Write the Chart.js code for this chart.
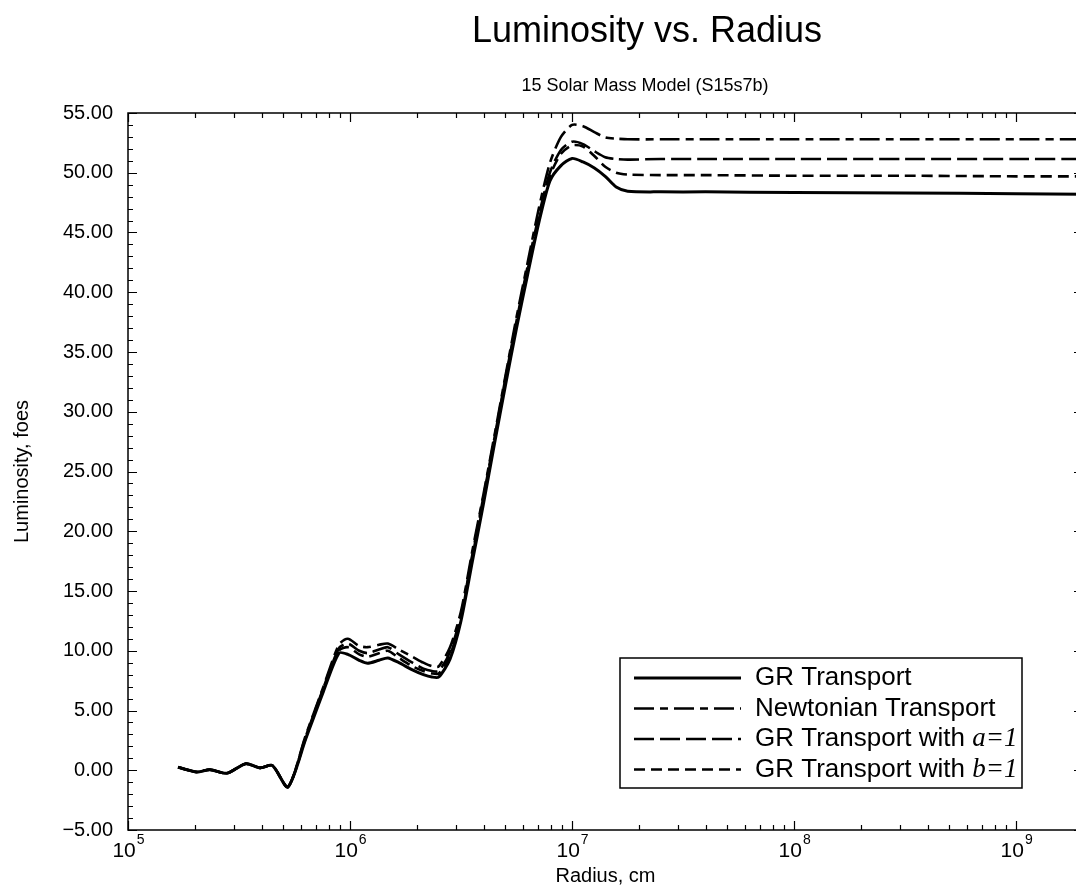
<!DOCTYPE html>
<html><head><meta charset="utf-8">
<script src="https://cdn.jsdelivr.net/npm/chart.js@4.4.1/dist/chart.umd.min.js"></script>
<style>
html,body{margin:0;padding:0;background:#fff;overflow:hidden;width:1076px;height:888px}
#wrap{position:absolute;left:0;top:0;width:1100px;height:888px}
</style>
</head><body>
<div id="wrap"><canvas id="c" width="1100" height="888"></canvas></div>
<script>
// ---- data (radius in cm, luminosity in foes) ----
const radius = [1.68e5, 2.04e5, 2.34e5, 2.79e5, 3.39e5, 3.94e5, 4.47e5, 5.25e5, 6.31e5, 7.59e5,
  8.91e5, 9.77e5, 1.10e6, 1.20e6, 1.35e6, 1.48e6, 1.66e6, 1.91e6, 2.14e6, 2.34e6,
  2.51e6, 2.82e6, 3.16e6, 3.55e6, 3.98e6, 4.47e6, 5.01e6, 5.62e6, 6.31e6, 7.08e6,
  7.94e6, 8.91e6, 1.00e7, 1.12e7, 1.26e7, 1.41e7, 1.58e7, 1.78e7, 2.51e7, 3.98e7,
  1.0e8, 3.16e8, 1.0e9, 2.0e9];
const grTransport = [0.25, -0.15, 0.05, -0.25, 0.55, 0.2, 0.4, -1.4, 2.6, 6.6,
  9.8, 9.7, 9.2, 8.95, 9.2, 9.4, 9.0, 8.4, 8.0, 7.8,
  7.8, 9.3, 12.5, 17.4, 22.2, 27.3, 32.2, 37.0, 41.5, 45.8,
  49.3, 50.6, 51.2, 50.9, 50.4, 49.7, 48.8, 48.45, 48.4, 48.4,
  48.35, 48.3, 48.25, 48.2];
const newtonian = [0.25, -0.15, 0.05, -0.25, 0.55, 0.2, 0.4, -1.4, 2.9, 7.0,
  10.5, 11.0, 10.4, 10.3, 10.5, 10.6, 10.1, 9.5, 9.0, 8.7,
  8.7, 10.3, 13.3, 18.3, 23.0, 28.0, 33.0, 37.9, 42.5, 47.0,
  50.8, 53.0, 54.0, 53.9, 53.4, 52.95, 52.85, 52.8, 52.8, 52.8,
  52.8, 52.8, 52.8, 52.8];
const grA1 = [0.25, -0.15, 0.05, -0.25, 0.55, 0.2, 0.4, -1.4, 2.8, 6.9,
  10.2, 10.6, 10.0, 9.8, 10.1, 10.3, 9.7, 9.0, 8.5, 8.3,
  8.3, 9.9, 13.0, 18.0, 22.8, 27.8, 32.8, 37.6, 42.2, 46.4,
  50.0, 51.9, 52.6, 52.4, 51.8, 51.3, 51.15, 51.1, 51.15, 51.15,
  51.15, 51.15, 51.15, 51.15];
const grB1 = [0.25, -0.15, 0.05, -0.25, 0.55, 0.2, 0.4, -1.4, 2.7, 6.8,
  10.0, 10.3, 9.7, 9.5, 9.8, 10.0, 9.4, 8.7, 8.3, 8.1,
  8.1, 9.6, 12.8, 17.8, 22.6, 27.6, 32.6, 37.4, 41.9, 46.0,
  49.7, 51.6, 52.3, 52.2, 51.4, 50.5, 50.0, 49.85, 49.8, 49.8,
  49.75, 49.75, 49.7, 49.7];
const seriesNames = ['GR Transport', 'Newtonian Transport', 'GR Transport with ', 'GR Transport with '];
const seriesItalic = ['', '', 'a=1', 'b=1'];
const xDecades = [5, 6, 7, 8, 9];
const yMin = -5, yMax = 55, yStep = 5;
const titleText = 'Luminosity vs. Radius';
const subtitleText = '15 Solar Mass Model (S15s7b)';

const SANS = '"Liberation Sans", Arial, Helvetica, sans-serif';
const SERIF = '"Liberation Serif", "Times New Roman", serif';

function pts(ys) { return radius.map((r, i) => ({x: r, y: ys[i]})); }

const dashes = [[], [20, 6, 8, 6], [20, 6], [11, 6]];
const widths = [3, 2.6, 2.6, 2.6];
const allSeries = [grTransport, newtonian, grA1, grB1];

const datasets = allSeries.map((ys, i) => ({
  label: seriesNames[i] + seriesItalic[i],
  data: pts(ys),
  borderColor: '#000',
  backgroundColor: '#000',
  borderWidth: widths[i],
  borderDash: dashes[i],
  pointRadius: 0,
  tension: 0.25,
  fill: false
}));

const decor = {
  id: 'decor',
  afterDatasetsDraw(chart) {
    const ctx = chart.ctx;
    const {left, right, top, bottom} = chart.chartArea;
    const xs = chart.scales.x, ys = chart.scales.y;
    ctx.save();
    ctx.strokeStyle = '#000';
    ctx.lineWidth = 1.5;
    ctx.setLineDash([]);
    ctx.strokeRect(left, top, right - left, bottom - top);
    ctx.lineWidth = 1.2;
    ctx.beginPath();
    for (let v = yMin; v <= yMax + 1e-9; v += 1) {
      const py = Math.round(ys.getPixelForValue(v)) + 0.5;
      const len = (Math.abs(v % yStep) < 1e-9) ? 9 : 5;
      ctx.moveTo(left, py); ctx.lineTo(left + len, py);
      ctx.moveTo(right, py); ctx.lineTo(right - len, py);
    }
    for (const k of [5, 6, 7, 8, 9]) {
      for (let m = 1; m <= 9; m++) {
        const val = m * Math.pow(10, k);
        if (val < xs.min || val > xs.max) continue;
        const px = Math.round(xs.getPixelForValue(val)) + 0.5;
        const len = m === 1 ? 9 : 5;
        ctx.moveTo(px, bottom); ctx.lineTo(px, bottom - len);
        ctx.moveTo(px, top); ctx.lineTo(px, top + len);
      }
    }
    ctx.stroke();

    ctx.fillStyle = '#000';
    ctx.textBaseline = 'alphabetic';
    ctx.textAlign = 'left';
    for (const k of xDecades) {
      const px = xs.getPixelForValue(Math.pow(10, k));
      ctx.font = '21px ' + SANS;
      const w1 = ctx.measureText('10').width;
      ctx.font = '14px ' + SANS;
      const w2 = ctx.measureText(String(k)).width;
      const x0 = px - (w1 + w2) / 2;
      ctx.font = '21px ' + SANS;
      ctx.fillText('10', x0, bottom + 27);
      ctx.font = '14px ' + SANS;
      ctx.fillText(String(k), x0 + w1 + 1, bottom + 14);
    }

    ctx.textAlign = 'center';
    ctx.textBaseline = 'middle';
    ctx.font = '36px ' + SANS;
    ctx.fillText(titleText, 647, 32);
    ctx.font = '18px ' + SANS;
    ctx.fillText(subtitleText, 645, 86);

    const bx = 620, by = 658, bw = 402, bh = 130;
    ctx.fillStyle = '#fff';
    ctx.fillRect(bx, by, bw, bh);
    ctx.lineWidth = 1.5;
    ctx.strokeStyle = '#000';
    ctx.strokeRect(bx, by, bw, bh);
    const rows = [678, 708.5, 739, 769.5];
    chart.data.datasets.forEach((ds, i) => {
      const y = rows[i];
      ctx.save();
      ctx.strokeStyle = ds.borderColor;
      ctx.lineWidth = ds.borderWidth;
      ctx.setLineDash(ds.borderDash);
      ctx.beginPath();
      ctx.moveTo(634, y); ctx.lineTo(741, y);
      ctx.stroke();
      ctx.restore();
      ctx.fillStyle = '#000';
      ctx.textAlign = 'left';
      ctx.textBaseline = 'middle';
      ctx.font = '26px ' + SANS;
      ctx.fillText(seriesNames[i], 755, y);
      if (seriesItalic[i]) {
        const w = ctx.measureText(seriesNames[i]).width;
        ctx.font = 'italic 27px ' + SERIF;
        ctx.fillText(seriesItalic[i], 755 + w, y);
      }
    });
    ctx.restore();
  }
};

new Chart(document.getElementById('c'), {
  type: 'line',
  data: {datasets},
  plugins: [decor],
  options: {
    responsive: false,
    animation: false,
    devicePixelRatio: 1,
    layout: {padding: {left: 0, top: 113, right: 17, bottom: 0}},
    plugins: {legend: {display: false}, tooltip: {enabled: false}, title: {display: false}},
    scales: {
      x: {
        type: 'logarithmic',
        min: 1e5, max: 2e9,
        grid: {display: false, drawTicks: false},
        border: {display: false},
        ticks: {display: false},
        title: {display: true, text: 'Radius, cm', color: '#000',
                font: {family: SANS, size: 20}, padding: {top: 0, bottom: 0}},
        afterFit(s) { s.height = 58; }
      },
      y: {
        type: 'linear',
        min: yMin, max: yMax,
        grid: {display: false, drawTicks: false},
        border: {display: false},
        ticks: {
          stepSize: yStep, padding: 15, color: '#000',
          font: {family: SANS, size: 20},
          callback: v => (v < 0 ? '\u2212' + Math.abs(v).toFixed(2) : v.toFixed(2))
        },
        title: {display: true, text: 'Luminosity, foes', color: '#000',
                font: {family: SANS, size: 20}, padding: {top: 10, bottom: 0}},
        afterFit(s) { s.width = 128; }
      }
    }
  }
});
</script>
</body></html>
